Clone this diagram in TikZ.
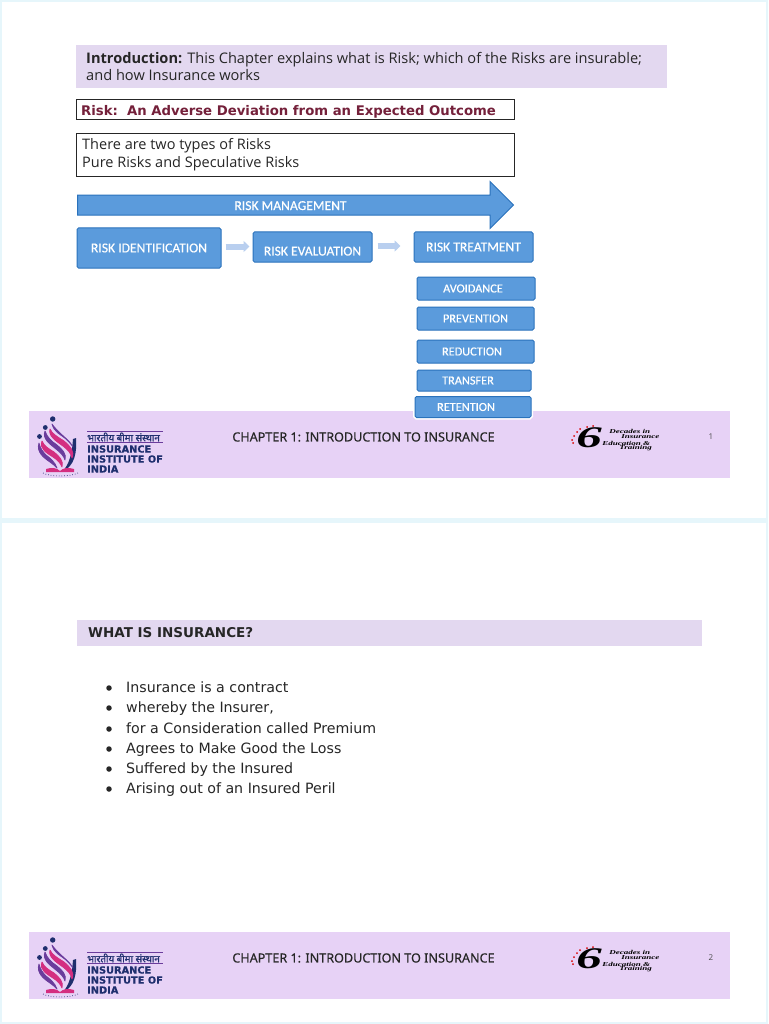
\documentclass[tikz,border=0pt]{standalone}
\usepackage{fontspec}
\setmainfont{Open Sans}
\newfontfamily\calibrifont[FakeBold=0.4]{Carlito}
\newfontfamily\tahomafont{DejaVu Sans}
\newfontfamily\logofont[BoldFeatures={FakeBold=0.6}]{DejaVu Sans}
\newfontfamily\footfont[FakeBold=0.4]{Noto Sans}
\newfontfamily\serifitfont{Liberation Serif}
\newfontfamily\hindifont[Script=Devanagari, FakeBold=1.2]{Noto Sans}
\usetikzlibrary{shapes.arrows, arrows.meta, positioning, calc}
\definecolor{pagebg}{HTML}{E6F6FB}
\definecolor{bandlilac}{HTML}{E3D8F0}
\definecolor{footlilac}{HTML}{E7D2F6}
\definecolor{riskblue}{HTML}{5B9BDC}
\definecolor{riskedge}{HTML}{2A72BC}
\definecolor{linkblue}{HTML}{B9CFEF}
\definecolor{maroon}{HTML}{74203A}
\definecolor{logonavy}{HTML}{1F2F6E}
\definecolor{logopurple}{HTML}{6A3C9C}
\definecolor{logopink}{HTML}{D42E80}
\tikzset{
  band box/.style={
    rectangle, fill=bandlilac, anchor=north west, inner sep=0pt
  },
  line box/.style={
    rectangle, draw=black!85, fill=white, line width=1pt,
    anchor=north west, inner sep=0pt
  },
  risk node/.style={
    rectangle, rounded corners=1.5pt, draw=riskedge, fill=riskblue, line width=1pt,
    inner sep=0pt, text=white, font=\calibrifont\fontsize{13.6}{14}\selectfont
  },
  risk option/.style={
    risk node, font=\calibrifont\fontsize{12.3}{13}\selectfont
  },
  risk link/.style={
    -{Triangle[length=6pt,width=11pt]}, line width=6pt, draw=linkblue
  },
  bullet item/.style={
    anchor=base west, inner sep=0pt, text=black!85, font=\tahomafont\fontsize{14.2}{16}\selectfont
  },
  logo text/.style={
    anchor=west, inner sep=0pt, text=logonavy, font=\logofont\bfseries\fontsize{9.8}{11}\selectfont
  },
  logo swoosh/.style={
    line width=0.8pt, line join=round
  },
  six text/.style={
    anchor=west, inner sep=0pt, xscale=1.5, transform shape,
    font=\serifitfont\bfseries\itshape\fontsize{6}{7}\selectfont
  }
}
\begin{document}
\begin{tikzpicture}[x=1pt, y=-1pt]
  \useasboundingbox (0,0) rectangle (768,1024);
  % slides
  \fill [pagebg] (0,0) rectangle (768,1024);
  \fill [white] (2,2) rectangle (766,518);
  \fill [white] (2,523) rectangle (766,1022);

  % first slide
  \node (intro) [band box, minimum width=591pt, minimum height=43pt] at (76,45) {};
  \node (introtext) [anchor=north west, inner sep=0pt, align=left, text=black!85,
    font=\fontsize{14.6}{17}\selectfont] at (86,52) {\textbf{Introduction:} This Chapter explains what is Risk; which of the Risks are insurable;\\and how Insurance works};
  \node (riskdef) [line box, minimum width=438pt, minimum height=20pt] at (76,99) {};
  \node (riskdeftext) [anchor=west, inner sep=0pt, text=maroon,
    font=\tahomafont\bfseries\fontsize{13.25}{14}\selectfont] at (81,112) {Risk:\ \ An Adverse Deviation from an Expected Outcome};
  \node (types) [line box, minimum width=438pt, minimum height=43pt] at (76,133) {};
  \node (typestext) [anchor=north west, inner sep=0pt, align=left, text=black!85,
    font=\fontsize{14.5}{18}\selectfont] at (82,138) {There are two types of Risks\\Pure Risks and Speculative Risks};

  \node (mgmt) [single arrow, draw=riskedge, fill=riskblue, line width=1pt, inner xsep=0pt, inner ysep=4.5pt,
    text=white, font=\calibrifont\fontsize{13.6}{14}\selectfont, text height=10pt, text depth=0pt,
    single arrow head extend=13.5pt, single arrow head indent=0pt,
    minimum height=436pt, minimum width=46pt, anchor=west] at (77,205) {RISK MANAGEMENT};

  \node (ident) [risk node, minimum width=144pt, minimum height=40pt] at (149,248) {RISK IDENTIFICATION};
  \node (eval) [risk node, minimum width=119pt, minimum height=30pt] at (312.5,247) {\raisebox{-8.5pt}[0pt][0pt]{RISK EVALUATION}};
  \node (treat) [risk node, minimum width=119pt, minimum height=30pt] at (473.5,247) {RISK TREATMENT};

  \draw [risk link, shorten <=4pt, shorten >=3pt] (ident.east |- 0,246.5) -- (eval.west |- 0,246.5);
  \draw [risk link, shorten <=5pt, shorten >=13pt] (eval.east |- 0,246) -- (treat.west |- 0,246);

  \node (avoid) [risk option, minimum width=118pt, minimum height=23pt] at (476,288.5) {\hspace*{-6pt}AVOIDANCE};
  \node (prevent) [risk option, minimum width=117pt, minimum height=23pt] at (475.5,318.5) {PREVENTION};
  \node (reduce) [risk option, minimum width=117pt, minimum height=23pt] at (475.5,351.5) {\hspace*{-7pt}REDUCTION};
  \node (transfer) [risk option, minimum width=114pt, minimum height=21pt] at (474,380.5) {\hspace*{-12pt}TRANSFER};

  % second slide
  \node (whatis) [band box, minimum width=625pt, minimum height=26pt] at (77,620) {};
  \node (whatistext) [anchor=west, inner sep=0pt, text=black!85,
    font=\tahomafont\bfseries\fontsize{13.5}{15}\selectfont] at (88,633) {WHAT IS INSURANCE?};
  \foreach \n/\y/\txt in {1/692/Insurance is a contract, 2/712/{whereby the Insurer,},
      3/733/for a Consideration called Premium, 4/753/Agrees to Make Good the Loss,
      5/773/Suffered by the Insured, 6/793/Arising out of an Insured Peril} {
    \node (item\n) [bullet item] at (126,\y) {\txt};
    \node (dot\n) [circle, fill=black!85, inner sep=0pt, minimum size=5.5pt] at (109,\y-4) {};
  }

  % footers
  \foreach \pg/\yy in {1/0, 2/521} {
    \begin{scope}[shift={(0,\yy)}]
      \node (foot\pg) [anchor=north west, fill=footlilac, inner sep=0pt,
        minimum width=701pt, minimum height=67pt] at (29,411) {};
      \node (chapter\pg) [inner sep=0pt, text=black!85,
        font=\footfont\fontsize{12.6}{14}\selectfont] at (363.5,437) {CHAPTER 1: INTRODUCTION TO INSURANCE};
      \node (page\pg) [inner sep=0pt, text=black!70, font=\fontsize{8}{9}\selectfont] at (711,436.5) {\pg};

      % logo
      \fill [logonavy] (52.7,419) circle (2.7) (45.3,427.5) circle (2.4) (39.5,436.5) circle (2.4);
      \fill [logonavy] (76,438) .. controls (77,452) and (75,466) .. (62,472)
        .. controls (70,464) and (72,452) .. (73,439) -- cycle;
      \filldraw [logopurple, logo swoosh] (52,424) .. controls (54,432) and (60,434) .. (66,439)
        .. controls (68,441) and (71,444) .. (73,447)
        .. controls (70,441) and (64,437) .. (60,433) .. controls (57,430) and (54,427) .. (52,424) -- cycle;
      \filldraw [logopink, logo swoosh] (50,429) .. controls (48,436) and (56,441) .. (63,446)
        .. controls (68,450) and (71,453) .. (72,458)
        .. controls (75,451) and (70,446) .. (64,441) .. controls (58,437) and (52,434) .. (50,429) -- cycle;
      \filldraw [logopurple, logo swoosh] (45,431) .. controls (42,439) and (50,444) .. (56,449)
        .. controls (60,452) and (64,456) .. (65,460)
        .. controls (67,454) and (62,449) .. (57,445) .. controls (51,441) and (47,437) .. (45,431) -- cycle;
      \filldraw [logopink, logo swoosh] (42,441) .. controls (39,449) and (47,453) .. (53,457)
        .. controls (58,460) and (61,464) .. (62,467)
        .. controls (64,461) and (59,456) .. (54,452) .. controls (49,449) and (44,446) .. (42,441) -- cycle;
      \filldraw [logopurple, logo swoosh] (39,443) .. controls (36,452) and (44,458) .. (50,462)
        .. controls (53,464) and (55,466) .. (57,468)
        .. controls (55,462) and (50,458) .. (46,455) .. controls (43,452) and (40,448) .. (39,443) -- cycle;
      \fill [logopink] (46,469) .. controls (52,467) and (57,468) .. (60,471)
        .. controls (63,468) and (68,467) .. (74,469) -- (74,472) -- (46,472) -- cycle;
      \draw [logonavy, line width=0.7pt, dotted] (43,473) .. controls (50,477) and (70,477) .. (78,473);

      \draw [logopurple, line width=0.8pt] (87,431) -- (163,431) (87,442.5) -- (163,442.5);
      \node (hindi\pg) [anchor=west, inner sep=0pt, text=logonavy,
        font=\hindifont\fontsize{9.7}{10}\selectfont] at (87,437) {भारतीय बीमा संस्थान};
      \node (ins\pg) [logo text] at (87,449) {INSURANCE};
      \node (inst\pg) [logo text] at (87,459) {INSTITUTE OF};
      \node (ind\pg) [logo text] at (87,469) {INDIA};

      % six decades mark
      \foreach \dx/\dy in {573/443, 572/440, 574/436, 577/432, 580/429, 587/427, 593/426}
        \fill [red!85!black] (\dx,\dy) circle (1);
      \node (six\pg) [inner sep=0pt, xscale=1.7, transform shape,
        font=\serifitfont\bfseries\itshape\fontsize{30}{30}\selectfont] at (589,438) {6};
      \node (dec\pg) [six text] at (609,431.5) {Decades in};
      \node (insu\pg) [six text] at (621,437) {Insurance};
      \node (edu\pg) [six text] at (602,443) {Education \&};
      \node (trn\pg) [six text] at (619,448.5) {Training};
    \end{scope}
  }

  % last option sits over the footer
  \node (retain) [risk option, minimum width=116pt, minimum height=21pt,
    preaction={draw=white, line width=4pt}] at (473,407) {\hspace*{-14pt}RETENTION};
\end{tikzpicture}
\end{document}
